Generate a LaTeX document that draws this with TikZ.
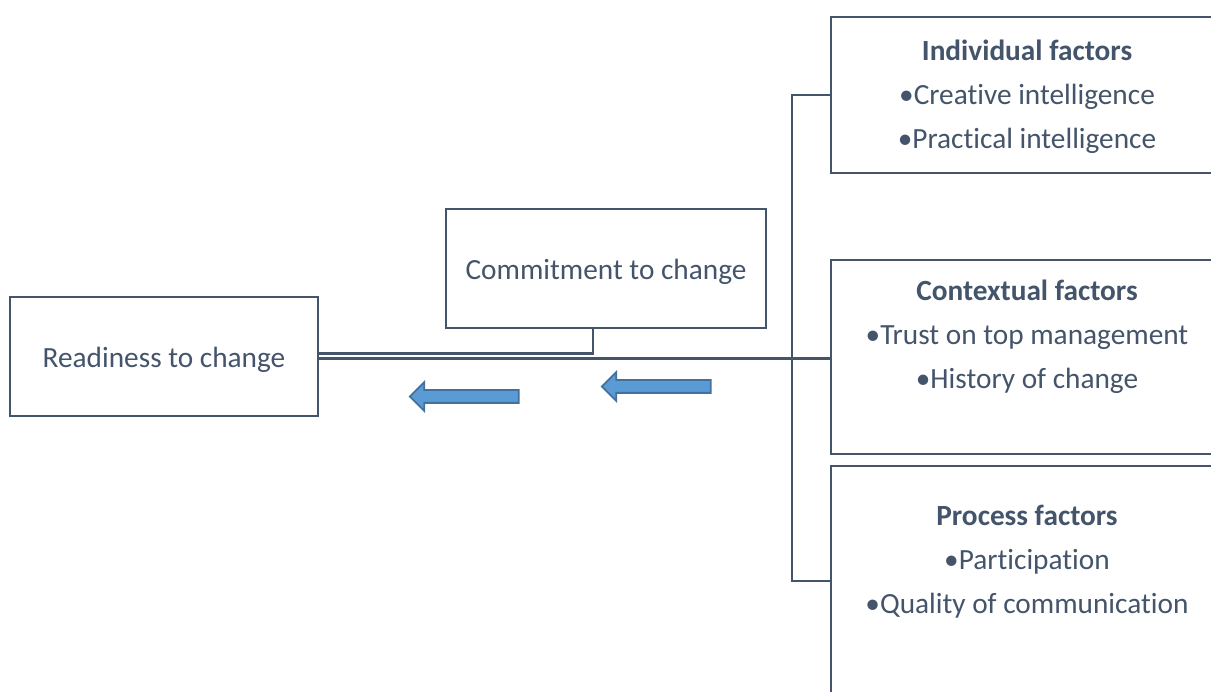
\documentclass[tikz,border=0pt]{standalone}
\usepackage{fontspec}
\setmainfont{Carlito}[Ligatures={NoCommon,NoDiscretionary}]
\usepackage{xcolor}
\usetikzlibrary{positioning}
\usetikzlibrary{shapes.arrows,calc}
\definecolor{slate}{HTML}{44546A}
\definecolor{arrfill}{HTML}{5B9BD5}
\definecolor{arrdraw}{HTML}{41719C}

\begin{document}
\begin{tikzpicture}[x=1pt,y=-1pt,every node/.style={outer sep=0pt},
		box/.style={draw=slate,line width=2.5pt,minimum width=#1},
		link/.style={draw=slate,line width=2.5pt},
		txt/.style={text=slate,font=\fontsize{29.3}{44}\selectfont,align=center,yshift=-3pt},
		blockarrow/.style={single arrow,shape border rotate=180,fill=arrfill,draw=arrdraw,
		line width=1.8pt,inner xsep=0pt,inner ysep=5.5pt,minimum height=109,
		single arrow head extend=8,single arrow tip angle=90},
		]
		\useasboundingbox (0,0) rectangle (1211,692);
		\clip (0,0) rectangle (1211,692);

		% left part
		\path (164,356.5) node[box=308,minimum height=119] (ready){};
		\path (ready) node[txt] (readytxt){Readiness to change};
		\path (606,268.5) node[box=320,minimum height=119] (com){};
		\path (com) node[txt] (comtxt){Commitment to change};

		% the three groups of factors
		\path (1028,95) node[box=394,minimum height=156] (ind){};
		\path (1027,94) node[txt] (indtxt){\textbf{Individual factors}\\\textbullet Creative intelligence\\\textbullet Practical intelligence};
		\path (1028,357) node[box=394,minimum height=194] (ctx){};
		\path (1027,334) node[txt] (ctxtxt){\textbf{Contextual factors}\\\textbullet Trust on top management\\\textbullet History of change};
		\path (1028,581) node[box=394,minimum height=230] (proc){};
		\path (1027,559) node[txt] (proctxt){\textbf{Process factors}\\\textbullet Participation\\\textbullet Quality of communication};

		% connectors
		\coordinate (stub) at (593,353.5);
		\coordinate (trunk) at (792,358.5);
		\draw[link] (ready.east |- stub) -- (stub) -- (stub |- com.south);
		\draw[link] (ready.east |- trunk) -- (ctx.west |- trunk);
		\draw[link] (ind.west) -| (trunk) |- (proc.west);

		% arrows
		\path (467.5,396.5) node[blockarrow] (arrA){};
		\path (659.5,386.5) node[blockarrow] (arrB){};
	\end{tikzpicture}
\end{document}
